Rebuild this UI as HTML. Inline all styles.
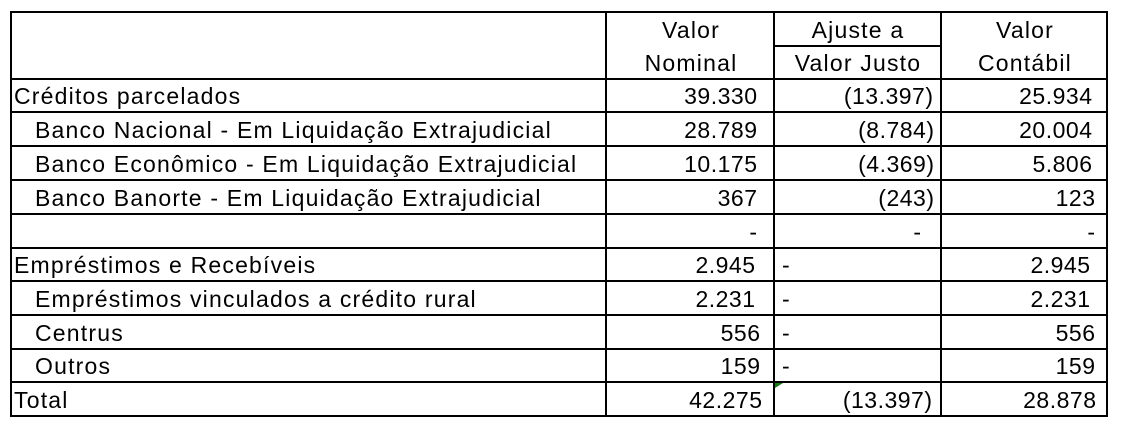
<!DOCTYPE html>
<html>
<head>
<meta charset="utf-8">
<style>
html,body{margin:0;padding:0;background:#fff;}
svg{display:block;}
text{font-family:"Liberation Sans",Arial,sans-serif;font-size:23px;fill:#000;}
.l{letter-spacing:1.2px;}
.h{letter-spacing:1.2px;text-anchor:middle;}
.n{text-anchor:end;letter-spacing:0.5px;}
</style>
</head>
<body>
<svg width="1126" height="434" viewBox="0 0 1126 434" xmlns="http://www.w3.org/2000/svg">
<rect x="0" y="0" width="1126" height="434" fill="#fff"/>
<g fill="#000">
<rect x="10" y="11" width="1098" height="2"/>
<rect x="10" y="415" width="1098" height="2"/>
<rect x="10" y="11" width="2" height="406"/>
<rect x="1106" y="11" width="2" height="406"/>
<rect x="605" y="11" width="2" height="406"/>
<rect x="773" y="11" width="2" height="406"/>
<rect x="940" y="11" width="2" height="406"/>
<rect x="773" y="45" width="169" height="2"/>
<rect x="10" y="78" width="1098" height="2"/>
<rect x="10" y="111" width="1098" height="2"/>
<rect x="10" y="145" width="1098" height="2"/>
<rect x="10" y="179" width="1098" height="2"/>
<rect x="10" y="213" width="1098" height="2"/>
<rect x="10" y="247" width="1098" height="2"/>
<rect x="10" y="280" width="1098" height="2"/>
<rect x="10" y="314" width="1098" height="2"/>
<rect x="10" y="348" width="1098" height="2"/>
<rect x="10" y="381" width="1098" height="2"/>
</g>
<polygon points="775,383 783,383 775,388" fill="#1a7a1a"/>

<text class="h" x="691" y="38">Valor</text>
<text class="h" x="691" y="71">Nominal</text>
<text class="h" x="858" y="38">Ajuste a</text>
<text class="h" x="858" y="71">Valor Justo</text>
<text class="h" x="1025" y="38">Valor</text>
<text class="h" x="1025" y="71">Contábil</text>

<text class="l" x="14" y="104">Créditos parcelados</text>
<text class="l" x="35" y="138">Banco Nacional - Em Liquidação Extrajudicial</text>
<text class="l" x="35" y="172">Banco Econômico - Em Liquidação Extrajudicial</text>
<text class="l" x="35" y="206">Banco Banorte - Em Liquidação Extrajudicial</text>
<text class="l" x="14" y="273">Empréstimos e Recebíveis</text>
<text class="l" x="35" y="307">Empréstimos vinculados a crédito rural</text>
<text class="l" x="35" y="341">Centrus</text>
<text class="l" x="35" y="374">Outros</text>
<text class="l" x="14" y="408">Total</text>

<text class="n" x="757.5" y="104">39.330</text>
<text class="n" x="757.5" y="138">28.789</text>
<text class="n" x="757.5" y="172">10.175</text>
<text class="n" x="757.5" y="206">367</text>
<text class="n" x="757.5" y="240">-</text>
<text class="n" x="755.5" y="273">2.945</text>
<text class="n" x="755.5" y="307">2.231</text>
<text class="n" x="760.5" y="341">556</text>
<text class="n" x="760.5" y="374">159</text>
<text class="n" x="762.5" y="408">42.275</text>

<text class="n" x="933.5" y="104">(13.397)</text>
<text class="n" x="934.5" y="138">(8.784)</text>
<text class="n" x="934.5" y="172">(4.369)</text>
<text class="n" x="934.5" y="206">(243)</text>
<text class="n" x="921.5" y="240">-</text>
<text x="782" y="273">-</text>
<text x="782" y="307">-</text>
<text x="782" y="341">-</text>
<text x="782" y="374">-</text>
<text class="n" x="932.5" y="408">(13.397)</text>

<text class="n" x="1092.5" y="104">25.934</text>
<text class="n" x="1092.5" y="138">20.004</text>
<text class="n" x="1092.5" y="172">5.806</text>
<text class="n" x="1095.5" y="206">123</text>
<text class="n" x="1095.5" y="240">-</text>
<text class="n" x="1090.5" y="273">2.945</text>
<text class="n" x="1090.5" y="307">2.231</text>
<text class="n" x="1095.5" y="341">556</text>
<text class="n" x="1095.5" y="374">159</text>
<text class="n" x="1096.5" y="408">28.878</text>
</svg>
</body>
</html>
